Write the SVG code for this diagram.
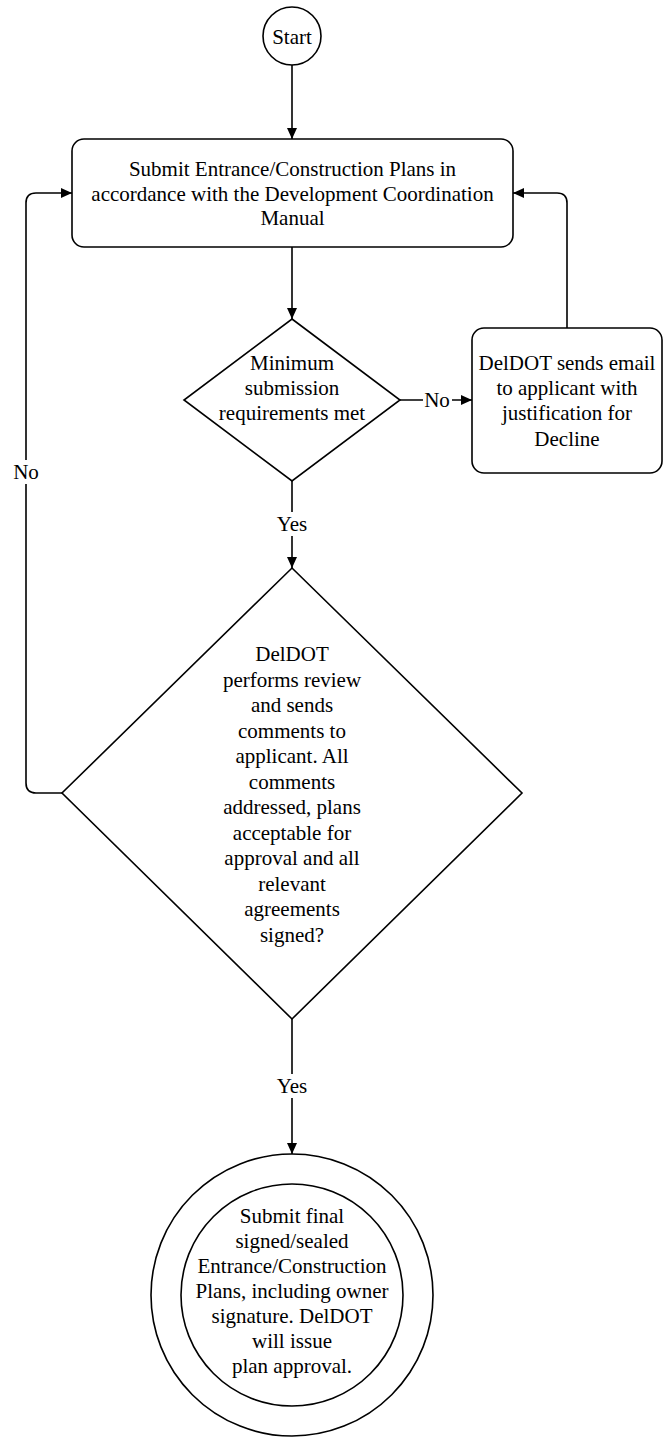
<svg xmlns="http://www.w3.org/2000/svg" width="663" height="1437" viewBox="0 0 663 1437">
<style>
.n{fill:#fff;stroke:#000;stroke-width:1.6}
.t{font-family:"Liberation Serif","Times New Roman",serif;font-size:21px;fill:#000;text-anchor:middle}
.e{fill:none;stroke:#000;stroke-width:1.6}
.lb{fill:#fff;stroke:none}
</style>
<defs>
<marker id="a" markerWidth="12" markerHeight="10" refX="11" refY="5" orient="auto" markerUnits="userSpaceOnUse">
<path d="M0,0 L11,5 L0,10 z" fill="#000"/>
</marker>
</defs>
<rect width="663" height="1437" fill="#fff"/>
<g id="connectors">
<path class="e" d="M292,65 V139" marker-end="url(#a)"/>
<path class="e" d="M292,247 V319" marker-end="url(#a)"/>
<path class="e" d="M292,481 V568" marker-end="url(#a)"/>
<path class="e" d="M400,400 H472" marker-end="url(#a)"/>
<path class="e" d="M567,328 V203 Q567,193 557,193 H513" marker-end="url(#a)"/>
<path class="e" d="M62,793 H36 Q26,793 26,783 V203 Q26,193 36,193 H72" marker-end="url(#a)"/>
<path class="e" d="M292,1019 V1154" marker-end="url(#a)"/>
<g id="label-yes1"><rect class="lb" x="274" y="512" width="36" height="24"/><text class="t" x="292" y="531">Yes</text></g>
<g id="label-no1"><rect class="lb" x="423" y="390" width="29" height="22"/><text class="t" x="437" y="407">No</text></g>
<g id="label-no2"><rect class="lb" x="12" y="460" width="29" height="24"/><text class="t" x="26" y="479">No</text></g>
<g id="label-yes2"><rect class="lb" x="274" y="1074" width="36" height="24"/><text class="t" x="292" y="1093">Yes</text></g>
</g>
<g id="start">
<circle class="n" cx="292" cy="36" r="29"/>
<text class="t" x="292" y="44">Start</text>
</g>
<g id="submit">
<rect class="n" x="72" y="139" width="441" height="108" rx="12"/>
<text class="t" x="292.5" y="176">Submit Entrance/Construction Plans in</text>
<text class="t" x="292.5" y="200.5">accordance with the Development Coordination</text>
<text class="t" x="292.5" y="225">Manual</text>
</g>
<g id="minimum">
<path class="n" d="M292,319 L400,400 L292,481 L184,400 Z"/>
<text class="t" x="292" y="370">Minimum</text>
<text class="t" x="292" y="395">submission</text>
<text class="t" x="292" y="419.5">requirements met</text>
</g>
<g id="decline">
<rect class="n" x="472" y="328" width="190" height="145" rx="12"/>
<text class="t" x="567" y="370">DelDOT sends email</text>
<text class="t" x="567" y="395">to applicant with</text>
<text class="t" x="567" y="420">justification for</text>
<text class="t" x="567" y="445.5">Decline</text>
</g>
<g id="review">
<path class="n" d="M292,568 L522,793 L292,1019 L62,793 Z"/>
<text class="t" x="292" y="661">DelDOT</text>
<text class="t" x="292" y="686.5">performs review</text>
<text class="t" x="292" y="712">and sends</text>
<text class="t" x="292" y="737.5">comments to</text>
<text class="t" x="292" y="763">applicant. All</text>
<text class="t" x="292" y="788.5">comments</text>
<text class="t" x="292" y="814">addressed, plans</text>
<text class="t" x="292" y="839.5">acceptable for</text>
<text class="t" x="292" y="865">approval and all</text>
<text class="t" x="292" y="890.5">relevant</text>
<text class="t" x="292" y="916">agreements</text>
<text class="t" x="292" y="941.5">signed?</text>
</g>
<g id="final">
<circle class="n" cx="292" cy="1295" r="141"/>
<circle class="n" cx="292" cy="1295" r="111"/>
<text class="t" x="292" y="1223">Submit final</text>
<text class="t" x="292" y="1248">signed/sealed</text>
<text class="t" x="292" y="1273">Entrance/Construction</text>
<text class="t" x="292" y="1298">Plans, including owner</text>
<text class="t" x="292" y="1323">signature. DelDOT</text>
<text class="t" x="292" y="1348">will issue</text>
<text class="t" x="292" y="1373">plan approval.</text>
</g>
</svg>
